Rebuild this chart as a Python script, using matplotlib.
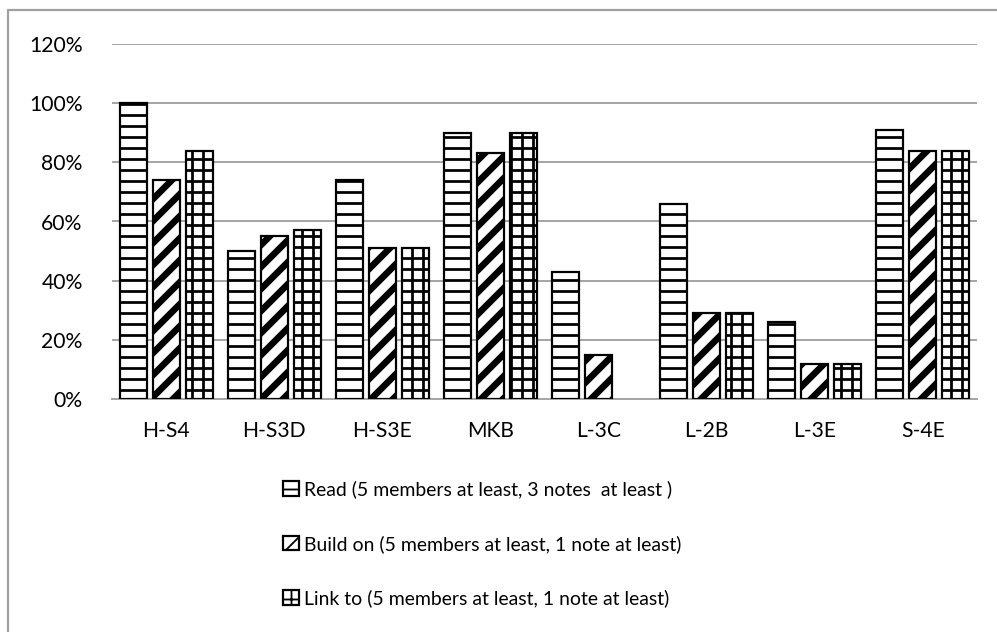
import matplotlib
matplotlib.use("Agg")
import matplotlib.pyplot as plt
import numpy as np
from matplotlib.patches import Rectangle
from matplotlib.ticker import FuncFormatter

groups = ["H-S4", "H-S3D", "H-S3E", "MKB", "L-3C", "L-2B", "L-3E", "S-4E"]
read_pct = [100, 50, 74, 90, 43, 66, 26, 91]
build_pct = [74, 55, 51, 83, 15, 29, 12, 84]
link_pct = [84, 57, 51, 90, 0, 29, 12, 84]

labels = [
    "Read (5 members at least, 3 notes  at least )",
    "Build on (5 members at least, 1 note at least)",
    "Link to (5 members at least, 1 note at least)",
]

plt.rcParams["font.family"] = ["Lato", "DejaVu Sans"]
plt.rcParams["font.size"] = 11.5

DPI = 132
fig = plt.figure(figsize=(997 / DPI, 632 / DPI), dpi=DPI)
ax = fig.add_axes([112 / 997, 1 - 399 / 632, (977 - 112) / 997, (399 - 44) / 632])

x = np.arange(len(groups))
w = 0.25
off = 0.305

series = [
    (read_pct, "--", 1.5),
    (build_pct, "//", 3.6),
    (link_pct, "++", 1.5),
]
handles = []
for i, (vals, hatch, hlw) in enumerate(series):
    with plt.rc_context({"hatch.linewidth": hlw}):
        bars = ax.bar(x + (i - 1) * off, np.array(vals) / 100, width=w,
                      facecolor="white", edgecolor="black", linewidth=1.2,
                      hatch=hatch, zorder=3)
    for b, v in zip(bars, vals):
        if hasattr(b, "set_hatch_linewidth"):
            b.set_hatch_linewidth(hlw)
        if v == 0:
            b.set_visible(False)
    handles.append(bars)

ax.set_xlim(-0.5, len(groups) - 0.5)
ax.set_ylim(0, 1.2)
ax.set_yticks(np.arange(0, 1.21, 0.2))
ax.yaxis.set_major_formatter(FuncFormatter(lambda v, p: f"{v * 100:.0f}%"))
ax.set_xticks(x)
ax.set_xticklabels(groups)
ax.tick_params(length=0, pad=16)
ax.tick_params(axis="x", pad=12)
ax.yaxis.grid(True, color="#a6a6a6", linewidth=1.1, zorder=0)
ax.set_axisbelow(True)
for s in ["left", "right", "top"]:
    ax.spines[s].set_visible(False)
ax.spines["bottom"].set_color("#a6a6a6")
ax.spines["bottom"].set_linewidth(1.1)

fig.legend(handles, labels, loc="upper left", bbox_to_anchor=(283 / 997, 1 - 480 / 632),
           frameon=False, handlelength=0.8, handleheight=0.8, handletextpad=0.3,
           labelspacing=1.9, fontsize=10.6, borderpad=0, borderaxespad=0)

# outer chart border
fig.patches.append(Rectangle((8 / 997, -0.1), 1.0, 1.1 - 10 / 632, transform=fig.transFigure,
                             fill=False, edgecolor="#a0a0a0", linewidth=1.2))

fig.savefig("out.png", dpi=DPI)
